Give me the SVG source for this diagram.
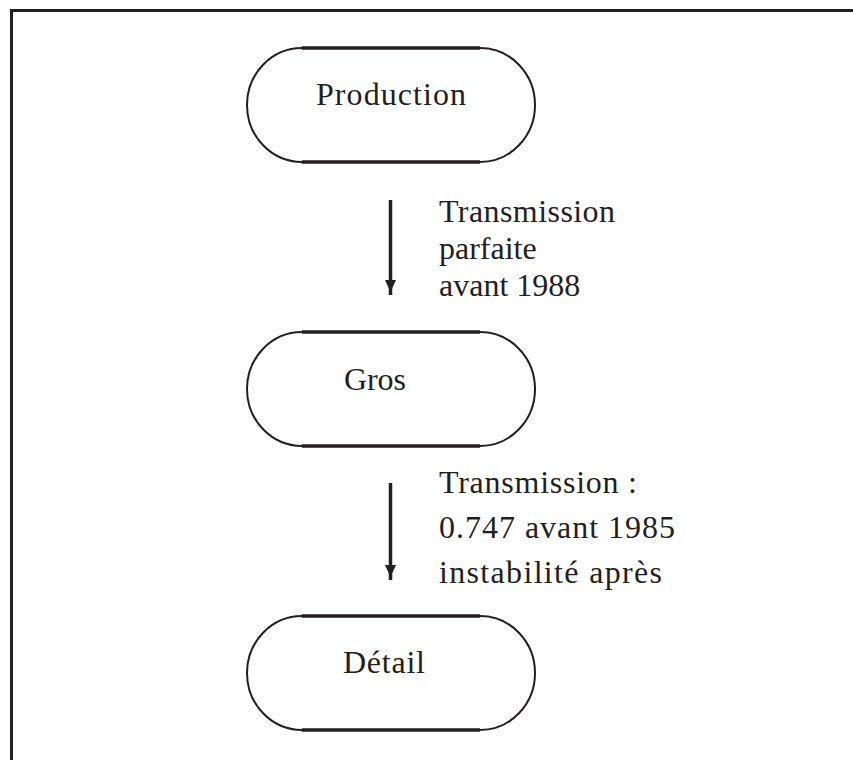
<svg xmlns="http://www.w3.org/2000/svg" width="853" height="760" viewBox="0 0 853 760">
<style>
.frame{fill:none;stroke:#231f20;stroke-width:3}
.arc{fill:none;stroke:#231f20;stroke-width:2}
.side{fill:none;stroke:#231f20;stroke-width:3.5}
.lbl{font-family:"Liberation Serif","DejaVu Serif",serif;font-size:32px;fill:#231f20}
.edge{stroke:#231f20;stroke-width:3.5;fill:none}
</style>
<defs>
<marker id="ah" markerUnits="userSpaceOnUse" markerWidth="16" markerHeight="12" viewBox="0 -6 16 12" refX="15" refY="0" orient="auto">
<path d="M0,-5.5 L12,0 L0,5.5 z" fill="#231f20"/>
</marker>
</defs>
<rect width="853" height="760" fill="#ffffff"/>
<path class="frame" d="M11.5,760 V10.5 H853"/>
<g id="connectors">
<line class="edge" x1="390.5" y1="200" x2="390.5" y2="295" marker-end="url(#ah)"/>
<line class="edge" x1="390.5" y1="483" x2="390.5" y2="580" marker-end="url(#ah)"/>
<g id="label1" class="lbl">
<text x="439" y="222" textLength="176">Transmission</text>
<text x="439" y="259">parfaite</text>
<text x="439" y="296">avant 1988</text>
</g>
<g id="label2" class="lbl">
<text x="439" y="493" textLength="198">Transmission :</text>
<text x="439" y="538" textLength="236">0.747 avant 1985</text>
<text x="439" y="583" textLength="223">instabilité après</text>
</g>
</g>
<g id="production">
<path class="arc" d="M302,48 A55,57 0 0 0 302,162 M480,48 A55,57 0 0 1 480,162"/>
<path class="side" d="M302,48 H480 M302,162 H480"/>
<text class="lbl" x="316" y="105" textLength="150">Production</text>
</g>
<g id="gros">
<path class="arc" d="M302,332 A55,57 0 0 0 302,446 M480,332 A55,57 0 0 1 480,446"/>
<path class="side" d="M302,332 H480 M302,446 H480"/>
<text class="lbl" x="344" y="390" textLength="62">Gros</text>
</g>
<g id="detail">
<path class="arc" d="M302,616 A55,57 0 0 0 302,730 M480,616 A55,57 0 0 1 480,730"/>
<path class="side" d="M302,616 H480 M302,730 H480"/>
<text class="lbl" x="343" y="673" textLength="82">Détail</text>
</g>
</svg>
